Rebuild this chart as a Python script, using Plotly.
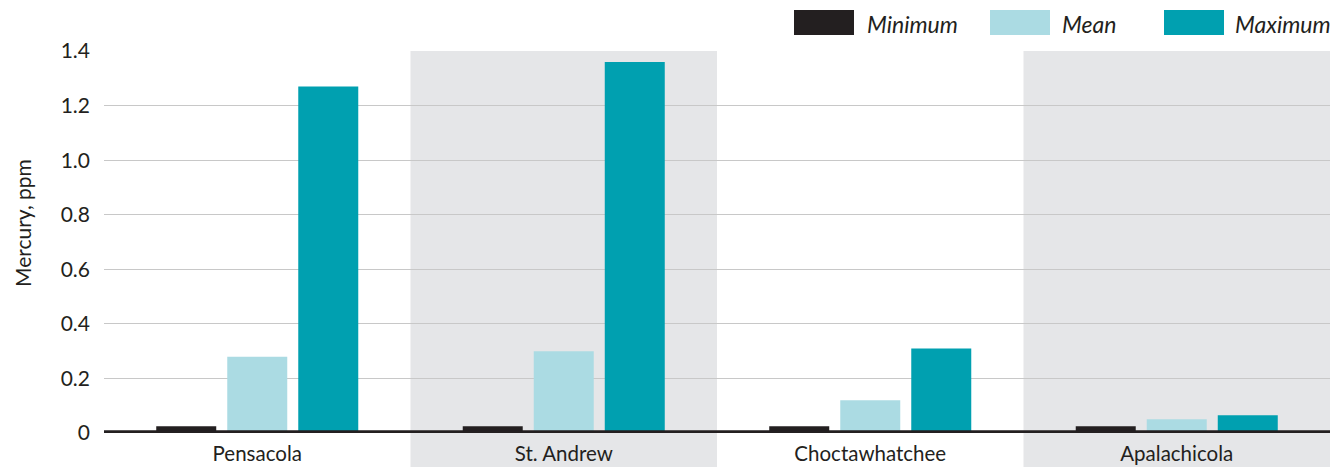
import plotly.graph_objects as go

categories = ["Pensacola", "St. Andrew", "Choctawhatchee", "Apalachicola"]
series_names = ["Minimum", "Mean", "Maximum"]
minimum = [0.025, 0.025, 0.025, 0.025]
mean = [0.28, 0.30, 0.12, 0.05]
maximum = [1.27, 1.36, 0.31, 0.065]
y_tick_vals = [0, 0.2, 0.4, 0.6, 0.8, 1.0, 1.2, 1.4]
y_tick_text = ["0", "0.2", "0.4", "0.6", "0.8", "1.0", "1.2", "1.4"]
y_title = "Mercury, ppm"

colors = ["#231f20", "#abdbe3", "#00a0b0"]
TEXT = "#231f20"
FONT = "Lato"

# page is rendered with an 8px body margin
OFF = 8
W, H = 1330, 459
ML, MR, MT, MB = 96, 8, 43, 34
PW = W - ML - MR
PH = H - MT - MB

fig = go.Figure()
for name, vals, c in zip(series_names, [minimum, mean, maximum], colors):
    fig.add_trace(go.Bar(x=categories, y=vals, name=name,
                         marker=dict(color=c, line=dict(width=0)), showlegend=False))

shapes = []
n = len(categories)
for i in range(n):
    if i % 2 == 1:
        shapes.append(dict(type="rect", xref="x domain", yref="paper",
                           x0=i / n, x1=(i + 1) / n, y0=-0.2, y1=1.0,
                           fillcolor="#e5e6e8", line=dict(width=0), layer="below"))
shapes.append(dict(type="line", xref="x domain", yref="y", x0=0, x1=1, y0=0, y1=0,
                   line=dict(color=TEXT, width=5.5), layer="above"))


def px2x(px):  # page pixel -> paper x
    return (px - OFF - ML) / PW


def py2y(py):  # page pixel -> paper y
    return (H - MB - (py - OFF)) / PH


annotations = []
leg = [(794, 865), (990, 1060), (1164, 1233)]
for (sx, tx), name, c in zip(leg, series_names, colors):
    shapes.append(dict(type="rect", xref="paper", yref="paper",
                       x0=px2x(sx), x1=px2x(sx + 60), y0=py2y(35), y1=py2y(10),
                       fillcolor=c, line=dict(width=0)))
    annotations.append(dict(xref="paper", yref="paper", x=px2x(tx), y=py2y(24),
                            xanchor="left", yanchor="middle", showarrow=False,
                            text="<i>" + name + "</i>",
                            font=dict(family=FONT, size=23, color=TEXT)))

annotations.append(dict(xref="paper", yref="paper", x=px2x(22), y=py2y(223),
                        xanchor="center", yanchor="middle", showarrow=False,
                        text=y_title, textangle=-90,
                        font=dict(family=FONT, size=21, color=TEXT)))

fig.update_layout(
    width=W, height=H,
    margin=dict(l=ML, r=MR, t=MT, b=MB, autoexpand=False),
    paper_bgcolor="white", plot_bgcolor="rgba(0,0,0,0)",
    barmode="group", bargap=0.305, bargroupgap=0.155,
    font=dict(family=FONT, size=20, color=TEXT),
    shapes=shapes, annotations=annotations,
    xaxis=dict(showgrid=False, showline=False, zeroline=False, ticks="",
               tickfont=dict(family=FONT, size=20.5, color=TEXT), ticklabelstandoff=6),
    yaxis=dict(range=[0, 1.4005], tickvals=y_tick_vals, ticktext=y_tick_text,
               showgrid=True, gridcolor="#c8c8c8", gridwidth=1.2,
               zeroline=False, showline=False, ticks="",
               tickfont=dict(family=FONT, size=21, color=TEXT), ticklabelstandoff=13),
)

fig.write_html("out.html")
